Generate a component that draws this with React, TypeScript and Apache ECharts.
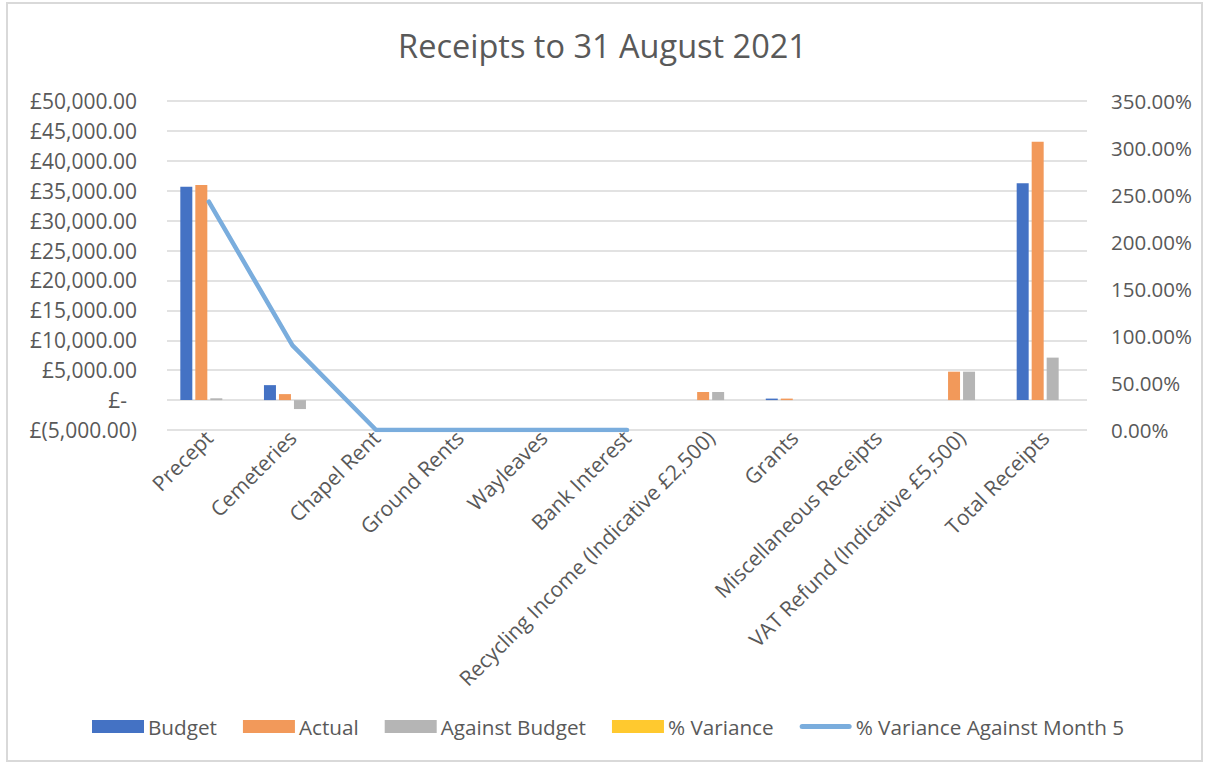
import React, { useEffect, useRef } from "react";
import * as echarts from "echarts";

const categories = [
  "Precept",
  "Cemeteries",
  "Chapel Rent",
  "Ground Rents",
  "Wayleaves",
  "Bank Interest",
  "Recycling Income (Indicative £2,500)",
  "Grants",
  "Miscellaneous Receipts",
  "VAT Refund (Indicative £5,500)",
  "Total Receipts",
];

const budget = [35650, 2500, 0, 0, 0, 0, 0, 250, 0, 0, 36250];
const actual = [35950, 1000, 0, 0, 0, 0, 1350, 250, 0, 4750, 43200];
const againstBudget = [300, -1500, 0, 0, 0, 0, 1350, 0, 0, 4750, 7100];
const pctVariance = [1, -0.6, 0, 0, 0, 0, 0, 0, 0, 0, 1.2];
const pctVarianceMonth5 = [243, 90, 0, 0, 0, 0, null, null, null, null, null];

const FONT = "'Open Sans', 'Noto Sans', sans-serif";
const TXT = "#595959";
const LINE_ICON = "path://M2.5,0 L49.5,0 A2.5,2.5 0 0 1 49.5,5 L2.5,5 A2.5,2.5 0 0 1 2.5,0 Z";

function fmtGBP(v: number): string {
  if (v === 0) return "{z|£-}";
  const s = Math.abs(v).toLocaleString("en-GB", { minimumFractionDigits: 2, maximumFractionDigits: 2 });
  return v < 0 ? `£(${s})` : `£${s}`;
}

export default function App() {
  const ref = useRef<HTMLDivElement>(null);
  useEffect(() => {
    if (!ref.current) return;
    const chart = echarts.init(ref.current, undefined, { renderer: "svg" });
    chart.setOption({
      animation: false,
      backgroundColor: "#ffffff",
      title: {
        text: "Receipts to 31 August 2021",
        left: "center",
        top: 24,
        textStyle: { fontFamily: FONT, fontSize: 32.5, fontWeight: "normal", color: TXT },
      },
      legend: {
        top: 711,
        left: 87,
        padding: 5,
        itemWidth: 52,
        itemHeight: 13,
        itemGap: 26,
        textStyle: { fontFamily: FONT, fontSize: 20.7, color: TXT, padding: [0, 0, 0, -1] },
        data: [
          { name: "Budget", icon: "rect" },
          { name: "Actual", icon: "rect" },
          { name: "Against Budget", icon: "rect" },
          { name: "% Variance", icon: "rect" },
          { name: "% Variance Against Month 5", icon: LINE_ICON },
        ],
      },
      grid: { left: 167, right: 118, top: 101, bottom: 334, containLabel: false },
      xAxis: {
        type: "category",
        data: categories,
        axisLine: { show: false, onZero: false },
        axisTick: { show: false },
        axisLabel: {
          rotate: 45,
          interval: 0,
          margin: 4,
          fontFamily: FONT,
          fontSize: 21,
          color: TXT,
        },
      },
      yAxis: [
        {
          type: "value",
          min: -5000,
          max: 50000,
          interval: 5000,
          axisLine: { show: false },
          axisTick: { show: false },
          splitLine: { lineStyle: { color: "#d9d9d9", width: 1.5 } },
          axisLabel: {
            margin: 30,
            fontFamily: FONT,
            fontSize: 21,
            color: TXT,
            formatter: (v: number) => fmtGBP(v),
            rich: { z: { fontFamily: FONT, fontSize: 21, color: TXT, padding: [0, 10, 0, 0] } },
          },
        },
        {
          type: "value",
          min: 0,
          max: 350,
          interval: 50,
          position: "right",
          axisLine: { show: false },
          axisTick: { show: false },
          splitLine: { show: false },
          axisLabel: {
            margin: 24,
            fontFamily: FONT,
            fontSize: 20.5,
            color: TXT,
            formatter: (v: number) => `${v.toFixed(2)}%`,
          },
        },
      ],
      series: [
        { name: "Budget", type: "bar", data: budget, barWidth: 12, barGap: "25%", itemStyle: { color: "#4472C4" } },
        { name: "Actual", type: "bar", data: actual, barWidth: 12, barGap: "25%", itemStyle: { color: "#F2995A" } },
        { name: "Against Budget", type: "bar", data: againstBudget, barWidth: 12, barGap: "25%", itemStyle: { color: "#B5B5B5" } },
        { name: "% Variance", type: "bar", data: pctVariance, barWidth: 12, barGap: "25%", itemStyle: { color: "#FFC92F" } },
        {
          name: "% Variance Against Month 5",
          type: "line",
          yAxisIndex: 1,
          data: pctVarianceMonth5,
          symbol: "none",
          connectNulls: false,
          lineStyle: { color: "#7AADDD", width: 4.5, cap: "round", join: "round" },
          itemStyle: { color: "#7AADDD" },
        },
      ],
    });
    return () => chart.dispose();
  }, []);
  return (
    <div style={{ position: "absolute", left: 0, top: 0, width: 1205, height: 764, background: "#fff" }}>
      <div ref={ref} style={{ position: "absolute", left: 0, top: 0, width: 1205, height: 764 }} />
      <div
        style={{
          position: "absolute",
          left: 6,
          top: 2,
          width: 1197,
          height: 760,
          boxSizing: "border-box",
          border: "2px solid #d9d9d9",
          pointerEvents: "none",
        }}
      />
    </div>
  );
}
